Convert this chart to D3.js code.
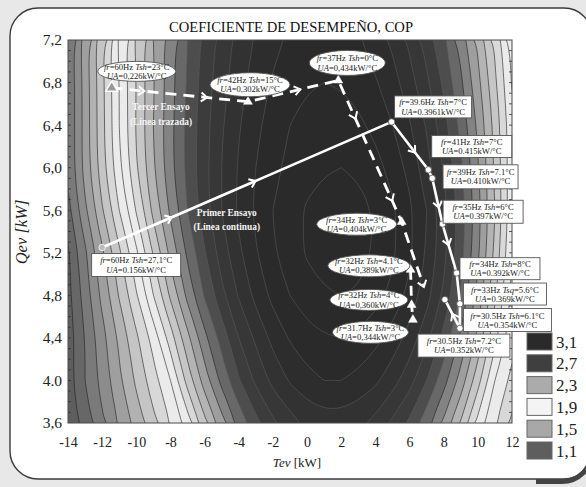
<!DOCTYPE html>
<html>
<head>
<meta charset="utf-8">
<script src="https://cdn.jsdelivr.net/npm/d3@7"></script>
<style>
  html, body { margin: 0; padding: 0; background: #e8e8e8; }
  svg { display: block; font-family: 'Liberation Serif', 'Times New Roman', serif; }
</style>
</head>
<body>
<svg id="chart" width="586" height="487"></svg>
<script>
// ---------------------------------------------------------------
// COP field sampled on a regular grid (rows: Qev from 7.2 down to 3.6,
// columns: Tev from -14 to 12 kW)
// ---------------------------------------------------------------
const tevGrid = [-14,-13,-12,-11,-10,-9,-8,-7,-6,-5,-4,-3,-2,-1,0,1,2,3,4,5,6,7,8,9,10,11,12];
const qevGrid = [7.2, 6.8, 6.4, 6.0, 5.6, 5.2, 4.8, 4.4, 4.0, 3.6];
const copGrid = [
  [1.23,1.46,1.69,1.92,2.12,2.30,2.46,2.60,2.73,2.84,2.94,3.01,3.07,3.12,3.14,3.15,3.14,3.11,3.05,2.98,2.88,2.76,2.62,2.46,2.28,2.08,1.87],
  [1.21,1.44,1.67,1.90,2.10,2.29,2.46,2.61,2.75,2.86,2.96,3.05,3.11,3.16,3.19,3.20,3.19,3.16,3.11,3.04,2.94,2.82,2.68,2.52,2.33,2.12,1.89],
  [1.21,1.44,1.67,1.90,2.11,2.30,2.47,2.63,2.76,2.89,2.99,3.08,3.14,3.20,3.23,3.25,3.25,3.22,3.17,3.10,3.01,2.89,2.74,2.57,2.38,2.17,1.93],
  [1.22,1.44,1.66,1.88,2.09,2.29,2.47,2.63,2.77,2.90,3.01,3.10,3.17,3.23,3.27,3.29,3.30,3.28,3.24,3.16,3.07,2.94,2.79,2.62,2.41,2.18,1.93],
  [1.17,1.38,1.59,1.80,2.01,2.23,2.42,2.60,2.76,2.90,3.02,3.12,3.20,3.27,3.31,3.34,3.35,3.34,3.29,3.22,3.12,3.00,2.84,2.65,2.44,2.20,1.93],
  [1.08,1.28,1.48,1.68,1.88,2.11,2.33,2.52,2.69,2.85,2.98,3.09,3.19,3.26,3.31,3.34,3.35,3.34,3.29,3.22,3.12,2.99,2.83,2.64,2.42,2.18,1.90],
  [1.07,1.25,1.43,1.61,1.79,2.00,2.22,2.43,2.61,2.77,2.91,3.03,3.13,3.20,3.26,3.29,3.30,3.29,3.24,3.17,3.07,2.94,2.78,2.59,2.37,2.12,1.87],
  [1.04,1.20,1.36,1.52,1.68,1.84,2.05,2.27,2.47,2.64,2.80,2.92,3.03,3.11,3.16,3.19,3.20,3.18,3.13,3.06,2.96,2.83,2.67,2.48,2.27,2.03,1.84],
  [1.06,1.20,1.34,1.48,1.62,1.76,1.90,2.14,2.35,2.53,2.69,2.82,2.93,3.01,3.07,3.10,3.10,3.07,3.02,2.94,2.84,2.70,2.54,2.36,2.14,1.90,1.77],
  [1.02,1.15,1.28,1.41,1.54,1.67,1.80,1.95,2.17,2.36,2.53,2.67,2.78,2.86,2.92,2.95,2.95,2.92,2.87,2.78,2.68,2.54,2.38,2.19,1.97,1.81,1.68]
];

// Legend values and their labels
const legendValues = [3.1, 2.7, 2.3, 1.9, 1.5, 1.1];
const legendLabels = ['3,1', '2,7', '2,3', '1,9', '1,5', '1,1'];

// Axis ticks
const xTicks = [-14,-12,-10,-8,-6,-4,-2,0,2,4,6,8,10,12];
const yTicks = [3.6, 4.0, 4.4, 4.8, 5.2, 5.6, 6.0, 6.4, 6.8, 7.2];
const yTickLabels = ['3,6','4.0','4,4','4,8','5,2','5,6','6,0','6,4','6,8','7,2'];

// First test (solid line, circles)
const primerTev = [-12.0, 4.95, 7.10, 7.33, 7.93, 8.76, 8.95, 8.95, 8.07];
const primerQev = [5.25, 6.43, 5.98, 5.90, 5.47, 5.01, 4.72, 4.49, 4.76];
const primerLabels = [
  ['*fr*=60Hz *Tsh*=27,1°C', '*UA*=0.156kW/°C'],
  ['*fr*=39.6Hz *Tsh*=7°C', '*UA*=0.3961kW/°C'],
  ['*fr*=41Hz *Tsh*=7°C', '*UA*=0.415kW/°C'],
  ['*fr*=39Hz *Tsh*=7.1°C', '*UA*=0.410kW/°C'],
  ['*fr*=35Hz *Tsh*=6°C', '*UA*=0.397kW/°C'],
  ['*fr*=34Hz *Tsh*=8°C', '*UA*=0.392kW/°C'],
  ['*fr*=33Hz *Tsq*=5.6°C', '*UA*=0.369kW/°C'],
  ['*fr*=30.5Hz *Tsh*=6.1°C', '*UA*=0.354kW/°C'],
  ['*fr*=30.5Hz *Tsh*=7.2°C', '*UA*=0.352kW/°C']
];

// Third test (dashed line, triangles)
const tercerTev = [-11.44, -3.46, 1.83, 5.54, 6.06, 6.12, 6.20];
const tercerQev = [6.75, 6.62, 6.82, 5.49, 5.04, 4.71, 4.57];
const tercerEndTev = 6.84, tercerEndQev = 4.88;
const tercerLabels = [
  ['*fr*=60Hz *Tsh*=23°C', '*UA*=0,226kW/°C'],
  ['*fr*=42Hz *Tsh*=15°C', '*UA*=0,302kW/°C'],
  ['*fr*=37Hz *Tsh*=0°C', '*UA*=0,434kW/°C'],
  ['*fr*=34Hz *Tsh*=3°C', '*UA*=0,404kW/°C'],
  ['*fr*=32Hz *Tsh*=4.1°C', '*UA*=0,389kW/°C'],
  ['*fr*=32Hz *Tsh*=4°C', '*UA*=0,360kW/°C'],
  ['*fr*=31.7Hz *Tsh*=3°C', '*UA*=0,344kW/°C']
];

// ---------------------------------------------------------------
// Layout
// ---------------------------------------------------------------
const plot = { left: 68, right: 512, top: 40, bottom: 423 };
const serif = "'Liberation Serif','Times New Roman',serif";

// label boxes: [dx, dy, width, height] relative to their point
const primerBoxes = [
  [34, 17.5, 89, 23], [41.5, -15, 77, 22], [43.4, -23.3, 80, 22], [48.3, -1.5, 75, 24],
  [40.6, -12.3, 80, 23], [43.3, -4.3, 80, 22], [45, -9.8, 83, 22], [47.5, -8.3, 88, 23],
  [19, 46, 92, 23]
];
const tercerBoxes = [
  [25, -16.5, 78, 20], [2, -17, 80, 24], [9, -17.5, 76, 25], [-45, 2.3, 80, 22],
  [-41.7, -4, 82, 22], [-42.7, -5, 78, 21], [-42.5, 12.5, 76, 22]
];
// arrow chevrons: [segment index, fraction along segment]
const primerArrows = [[0, 0.24], [0, 0.53], [1, 0.64], [3, 0.64], [4, 0.43], [7, 0.5]];
const tercerArrows = [[0, 0.24], [0, 0.70], [1, 0.58], [2, 0.27], [2, 0.85], [3, 1.0]];

const svg = d3.select('#chart');
const x = d3.scaleLinear([-14, 12], [plot.left, plot.right]);
const y = d3.scaleLinear([3.6, 7.2], [plot.bottom, plot.top]);

const gray = d3.scaleLinear()
  .domain([1.1, 1.5, 1.9, 2.3, 2.7, 3.1])
  .range(['#5e5e5e', '#a8a8a8', '#f4f4f4', '#ababab', '#3f3f3f', '#2a2a2a'])
  .clamp(true);

// ---------------------------------------------------------------
// Rounded panel
// ---------------------------------------------------------------
svg.append('path')
  .attr('d', 'M10,36 A28,28 0 0 1 38,8 L564,8 A28,28 0 0 1 592,36 L592,451 A28,28 0 0 1 564,479 L38,479 A28,28 0 0 1 10,451 Z')
  .attr('fill', '#ffffff').attr('stroke', '#3c3c3c').attr('stroke-width', 1.4);
svg.append('path')
  .attr('d', 'M536,481.5 L562,481.5 A30,30 0 0 0 592,451.5')
  .attr('fill', 'none').attr('stroke', '#444').attr('stroke-width', 5);

// title
svg.append('text')
  .attr('x', 291).attr('y', 32).attr('text-anchor', 'middle')
  .attr('font-size', 14.6).attr('fill', '#111')
  .text('COEFICIENTE DE DESEMPEÑO, COP');

// ---------------------------------------------------------------
// Filled contours
// ---------------------------------------------------------------
svg.append('clipPath').attr('id', 'plotClip')
  .append('rect')
  .attr('x', plot.left).attr('y', plot.top)
  .attr('width', plot.right - plot.left).attr('height', plot.bottom - plot.top);

const field = svg.append('g').attr('clip-path', 'url(#plotClip)');
const nx = tevGrid.length, ny = qevGrid.length;
const values = copGrid.flat();
const levels = d3.range(10, 34).map(k => k / 10);
const contours = d3.contours().size([nx, ny]).thresholds(levels)(values);

const gx = d3.scaleLinear([0.5, nx - 0.5], [x(tevGrid[0]), x(tevGrid[nx - 1])]);
const gy = d3.scaleLinear([0.5, ny - 0.5], [y(qevGrid[0]), y(qevGrid[ny - 1])]);
const ringLine = d3.line()
  .x(p => gx(p[0])).y(p => gy(p[1]))
  .curve(d3.curveBasisClosed);
const toPath = mp => mp.coordinates
  .map(poly => poly.map(ring => ringLine(ring.slice(0, -1))).join(''))
  .join('');

field.append('rect')
  .attr('x', plot.left).attr('y', plot.top)
  .attr('width', plot.right - plot.left).attr('height', plot.bottom - plot.top)
  .attr('fill', gray(0.95));

const bandPaths = contours.map(c => ({ value: c.value, d: toPath(c) }));
field.selectAll('path.band')
  .data(bandPaths).join('path')
  .attr('class', 'band')
  .attr('d', d => d.d)
  .attr('fill-rule', 'evenodd')
  .attr('fill', d => gray(d.value + 0.05));
field.selectAll('path.iso')
  .data(bandPaths).join('path')
  .attr('class', 'iso')
  .attr('d', d => d.d)
  .attr('fill', 'none')
  .attr('stroke', d => d.value >= 2.6 ? '#5a5a5a' : '#1c1c1c')
  .attr('stroke-opacity', 0.85)
  .attr('stroke-width', 0.7);

// plot frame and minor ticks on the side axes
svg.append('rect')
  .attr('x', plot.left).attr('y', plot.top)
  .attr('width', plot.right - plot.left).attr('height', plot.bottom - plot.top)
  .attr('fill', 'none').attr('stroke', '#4a4a4a').attr('stroke-width', 1);
const minor = d3.range(37, 72).map(k => k / 10);
svg.append('g').selectAll('line').data(minor).join('line')
  .attr('x1', plot.left).attr('x2', plot.left + 3)
  .attr('y1', d => y(d)).attr('y2', d => y(d))
  .attr('stroke', '#333').attr('stroke-width', 0.8);
svg.append('g').selectAll('line').data(minor).join('line')
  .attr('x1', plot.right - 3).attr('x2', plot.right)
  .attr('y1', d => y(d)).attr('y2', d => y(d))
  .attr('stroke', '#333').attr('stroke-width', 0.8);

// ---------------------------------------------------------------
// Axes
// ---------------------------------------------------------------
const xAxis = svg.append('g')
  .attr('transform', `translate(0,${plot.bottom})`)
  .call(d3.axisBottom(x).tickValues(xTicks).tickSize(0).tickPadding(14).tickFormat(d => String(d)));
xAxis.select('.domain').remove();
xAxis.selectAll('text').attr('font-family', serif).attr('font-size', 14).attr('fill', '#222');

const yAxis = svg.append('g')
  .attr('transform', `translate(${plot.left},0)`)
  .call(d3.axisLeft(y).tickValues(yTicks).tickSize(0).tickPadding(6).tickFormat((d, i) => yTickLabels[i]));
yAxis.select('.domain').remove();
yAxis.selectAll('text').attr('font-family', serif).attr('font-size', 15.5).attr('fill', '#222');

const xt = svg.append('text')
  .attr('x', 297).attr('y', 467).attr('text-anchor', 'middle')
  .attr('font-size', 13).attr('fill', '#222');
xt.append('tspan').attr('font-style', 'italic').text('Tev');
xt.append('tspan').text(' [kW]');

const yt = svg.append('text')
  .attr('transform', 'translate(27,232) rotate(-90)')
  .attr('text-anchor', 'middle')
  .attr('font-size', 16.5).attr('fill', '#222');
yt.append('tspan').attr('font-style', 'italic').text('Qev [kW]');

// ---------------------------------------------------------------
// Test paths
// ---------------------------------------------------------------
const primerPts = primerTev.map((t, i) => [x(t), y(primerQev[i])]);
const tercerPts = tercerTev.map((t, i) => [x(t), y(tercerQev[i])]);
const tercerMain = tercerPts.slice(0, 4).concat([[x(tercerEndTev), y(tercerEndQev)]]);
const tercerBranch = tercerPts.slice(4);

const lines = svg.append('g');
lines.append('path')
  .attr('d', d3.line()(primerPts))
  .attr('fill', 'none').attr('stroke', '#fff').attr('stroke-width', 2.6)
  .attr('stroke-linejoin', 'round');
lines.append('path')
  .attr('d', d3.line()(tercerMain))
  .attr('fill', 'none').attr('stroke', '#fff').attr('stroke-width', 2.8)
  .attr('stroke-dasharray', '11,7');
lines.append('path')
  .attr('d', d3.line()(tercerBranch))
  .attr('fill', 'none').attr('stroke', '#fff').attr('stroke-width', 2.8)
  .attr('stroke-dasharray', '10,6');

function drawChevrons(pts, arrows) {
  arrows.forEach(([s, t]) => {
    const a = pts[s], b = pts[s + 1];
    const px = a[0] + (b[0] - a[0]) * t, py = a[1] + (b[1] - a[1]) * t;
    const ang = Math.atan2(b[1] - a[1], b[0] - a[0]) * 180 / Math.PI;
    lines.append('path')
      .attr('d', 'M-6,-4.5 L0,0 L-6,4.5')
      .attr('transform', `translate(${px},${py}) rotate(${ang})`)
      .attr('fill', 'none').attr('stroke', '#fff').attr('stroke-width', 2);
  });
}
drawChevrons(primerPts, primerArrows);
drawChevrons(tercerMain, tercerArrows);

// markers
lines.selectAll('circle.p').data(primerPts).join('circle')
  .attr('class', 'p')
  .attr('cx', d => d[0]).attr('cy', d => d[1]).attr('r', 3.2)
  .attr('fill', (d, i) => i === 0 ? '#bbb' : '#fff')
  .attr('stroke', (d, i) => i === 0 ? '#fff' : '#555').attr('stroke-width', 0.8);
const tri = d3.symbol().type(d3.symbolTriangle);
lines.selectAll('path.t').data(tercerPts).join('path')
  .attr('class', 't')
  .attr('d', (d, i) => tri.size(i === 0 ? 60 : 34)())
  .attr('transform', d => `translate(${d[0]},${d[1]})`)
  .attr('fill', (d, i) => i === 0 ? '#9a9a9a' : '#fff')
  .attr('stroke', '#fff').attr('stroke-width', (d, i) => i === 0 ? 1.4 : 0.5);

// test names
function twoLine(txt1, txt2, tev, qev1, qev2) {
  [[txt1, qev1], [txt2, qev2]].forEach(([s, q]) => {
    svg.append('text')
      .attr('x', x(tev)).attr('y', y(q)).attr('text-anchor', 'middle')
      .attr('font-size', 9.4).attr('font-weight', 'bold').attr('fill', '#f4f4f4')
      .text(s);
  });
}
twoLine('Tercer Ensayo', '(Línea trazada)', -8.55, 6.54, 6.40);
twoLine('Primer Ensayo', '(Línea continua)', -4.7, 5.55, 5.41);

// ---------------------------------------------------------------
// Point labels
// ---------------------------------------------------------------
function addLabel(cx, cy, w, h, textLines, shape) {
  const g = svg.append('g');
  if (shape === 'ellipse') {
    g.append('ellipse').attr('cx', cx).attr('cy', cy).attr('rx', w / 2).attr('ry', h / 2)
      .attr('fill', '#fff').attr('stroke', '#555').attr('stroke-width', 0.9);
  } else {
    g.append('rect').attr('x', cx - w / 2).attr('y', cy - h / 2).attr('width', w).attr('height', h)
      .attr('fill', '#fff').attr('stroke', '#555').attr('stroke-width', 0.9);
  }
  textLines.forEach((ln, i) => {
    const t = g.append('text')
      .attr('x', cx).attr('y', cy + (i === 0 ? -1.5 : 7.6))
      .attr('text-anchor', 'middle').attr('font-size', 8.6).attr('fill', '#1a1a1a');
    ln.split('*').forEach((s, k) => {
      if (s) t.append('tspan').attr('font-style', k % 2 ? 'italic' : 'normal').text(s);
    });
  });
}
primerPts.forEach((p, i) => {
  const [dx, dy, w, h] = primerBoxes[i];
  addLabel(p[0] + dx, p[1] + dy, w, h, primerLabels[i], 'rect');
});
tercerPts.forEach((p, i) => {
  const [dx, dy, w, h] = tercerBoxes[i];
  addLabel(p[0] + dx, p[1] + dy, w, h, tercerLabels[i], 'ellipse');
});

// ---------------------------------------------------------------
// Legend
// ---------------------------------------------------------------
const legend = svg.append('g').attr('transform', 'translate(527,333)');
legendValues.forEach((v, i) => {
  const gy0 = i * 21.8;
  legend.append('rect').attr('x', 0).attr('y', gy0).attr('width', 25).attr('height', 17)
    .attr('fill', gray(v)).attr('stroke', '#666').attr('stroke-width', 1);
  legend.append('text').attr('x', 29).attr('y', gy0 + 14.5)
    .attr('font-size', 17).attr('fill', '#222').text(legendLabels[i]);
});
</script>
</body>
</html>
